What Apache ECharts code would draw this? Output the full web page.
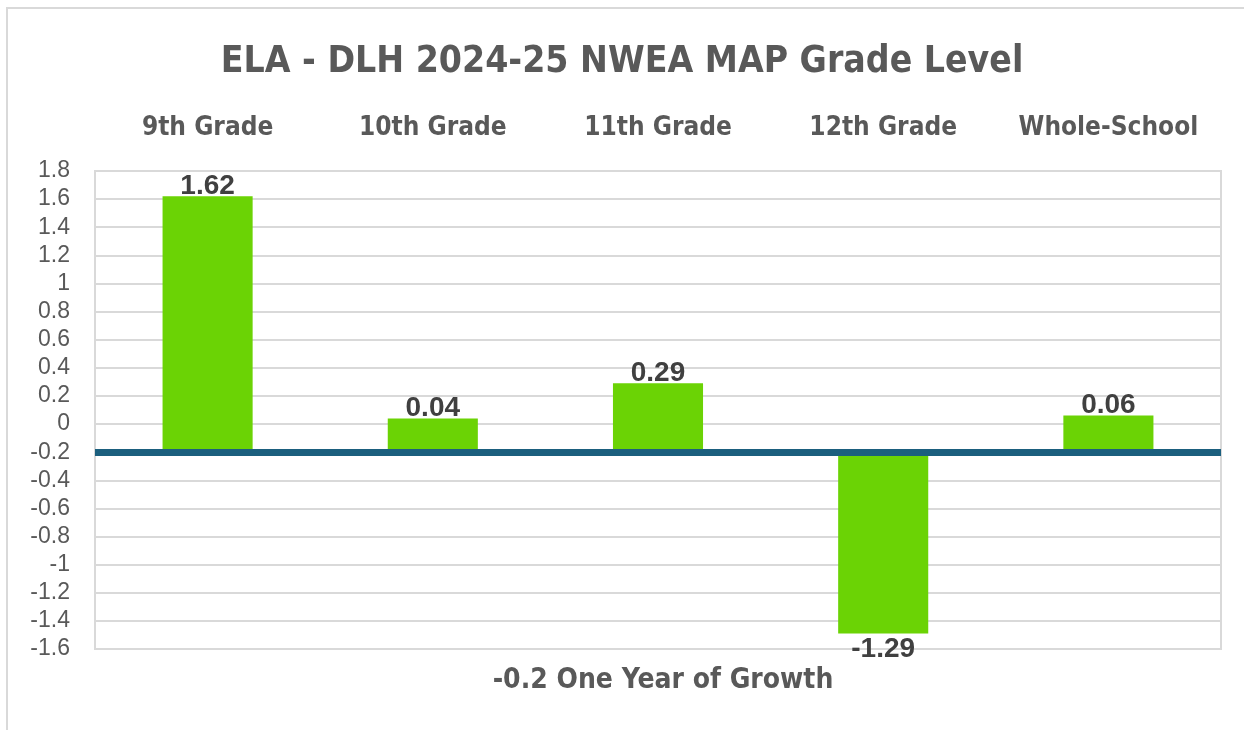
<!DOCTYPE html>
<html>
<head>
<meta charset="utf-8">
<title>ELA - DLH 2024-25 NWEA MAP Grade Level</title>
<script src="https://cdn.jsdelivr.net/npm/echarts@6/dist/echarts.min.js"></script>
<style>
    html, body {margin:0; padding:0; background:#fff;}
    #main {width:1244px; height:730px;}
</style>
</head>
<body>
<div id="main"></div>
<script>
// grades on the top axis
var grades = ['9th Grade', '10th Grade', '11th Grade', '12th Grade', 'Whole-School'];
// where each bar ends on the y axis (bars hang from the -0.2 line)
var barEnds = [1.62, 0.04, 0.29, -1.49, 0.06];
// printed data labels
var barLabels = ['1.62', '0.04', '0.29', '-1.29', '0.06'];
// one year of growth line
var growthLine = -0.2;

var narrow = '"Liberation Sans Narrow", "DejaVu Sans Condensed", "Liberation Sans", sans-serif';
var greyText = '#595959';

function barData(){
    var out = [];
    for(var i=0;i<grades.length;i++){
        out.push([i, barEnds[i]]);
    }
    return out;
}

//画柱子，从 -0.2 开始
function renderBar(params, api){
    var i = api.value(0);
    var end = api.coord([i, api.value(1)]);
    var base = api.coord([i, growthLine]);
    var w = api.size([1, 0])[0] * 0.4;
    var up = end[1] < base[1];
    return {
        type: 'group',
        children: [
            {
                type: 'rect',
                shape: {
                    x: end[0] - w / 2,
                    y: Math.min(end[1], base[1]),
                    width: w,
                    height: Math.abs(base[1] - end[1])
                },
                style: {fill: '#6bd305'}
            },
            {
                type: 'text',
                x: end[0],
                y: up ? end[1] + 4 : end[1] + 2,
                style: {
                    text: barLabels[params.dataIndex],
                    align: 'center',
                    verticalAlign: up ? 'bottom' : 'top',
                    fill: '#404040',
                    font: 'bold 28px "Liberation Sans", Arial, sans-serif'
                }
            }
        ]
    };
}

var myChart = echarts.init(document.getElementById('main'));
var option = {
    backgroundColor: '#fff',
    animation: false,
    title: [
        {
            text: 'ELA - DLH 2024-25 NWEA MAP Grade Level',
            left: 'center',
            top: 39,
            textStyle: {fontFamily: narrow, fontSize: 37, fontWeight: 'bold', color: greyText}
        },
        {
            text: '-0.2 One Year of Growth',
            left: 658,
            textAlign: 'center',
            top: 662,
            textStyle: {fontFamily: narrow, fontSize: 28, fontWeight: 'bold', color: greyText}
        }
    ],
    graphic: [
        {
            type: 'rect',
            shape: {x: 7, y: 8, width: 1260, height: 760},
            style: {fill: 'none', stroke: '#d9d9d9', lineWidth: 2},
            silent: true
        }
    ],
    grid: {
        left: 95,
        right: 23,
        top: 171,
        bottom: 81,
        show: true,
        borderColor: '#d9d9d9',
        borderWidth: 2
    },
    xAxis: {
        type: 'category',
        data: grades,
        position: 'top',
        axisLine: {show: false},
        axisTick: {show: false},
        axisLabel: {
            interval: 0,
            margin: 30,
            fontFamily: narrow,
            fontSize: 26,
            fontWeight: 'bold',
            color: greyText
        }
    },
    yAxis: {
        type: 'value',
        min: -1.6,
        max: 1.8,
        interval: 0.2,
        axisLine: {show: false},
        axisTick: {show: false},
        splitLine: {lineStyle: {color: '#d9d9d9', width: 2}},
        axisLabel: {
            margin: 25,
            fontFamily: '"Liberation Sans", Arial, sans-serif',
            fontSize: 23,
            color: greyText,
            formatter: function(v){ return String(+v.toFixed(1)); }
        }
    },
    series: [
        {
            type: 'custom',
            renderItem: renderBar,
            data: barData(),
            z: 2,
            markLine: {
                silent: true,
                symbol: 'none',
                label: {show: false},
                lineStyle: {color: '#1b5f7e', width: 7, type: 'solid'},
                data: [{yAxis: growthLine}],
                z: 5
            }
        }
    ]
};
myChart.setOption(option);
window.onresize = myChart.resize;
</script>
</body>
</html>
